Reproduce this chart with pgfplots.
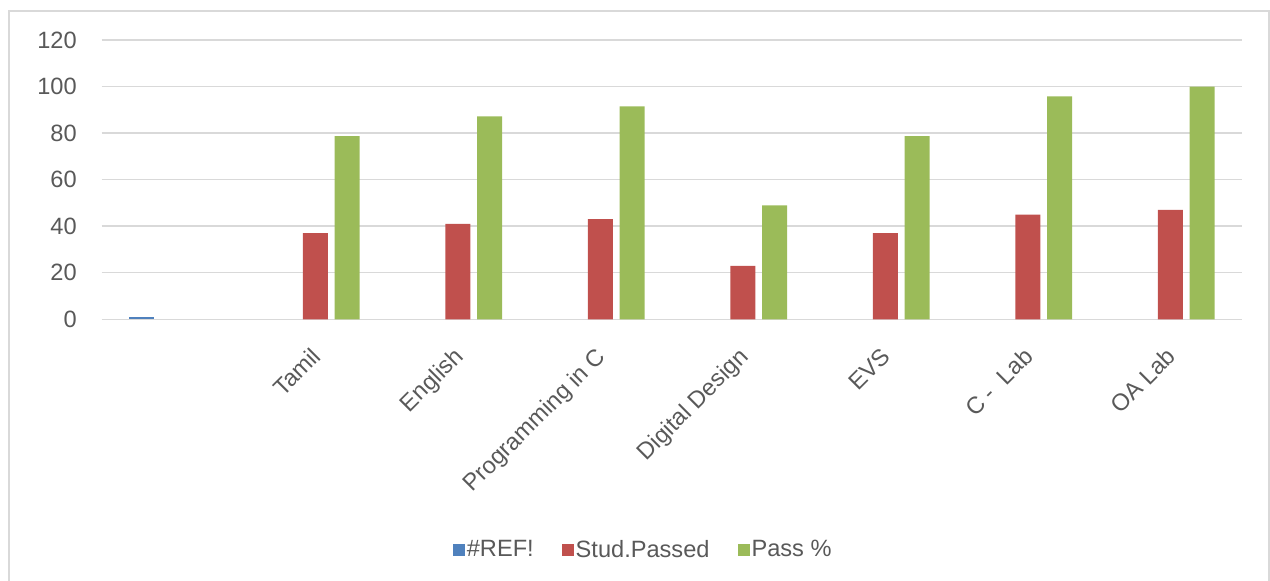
\documentclass[border=0pt]{standalone}
\usepackage{fontspec}
\setmainfont{Liberation Sans}
\usepackage{pgfplots}
\pgfplotsset{compat=1.18}
\definecolor{cblue}{HTML}{4F81BD}
\definecolor{cred}{HTML}{C0504D}
\definecolor{cgreen}{HTML}{9BBB59}
\definecolor{gridc}{HTML}{D9D9D9}
\definecolor{txt}{HTML}{595959}
\begin{document}
\begin{tikzpicture}
\useasboundingbox (0,0) rectangle (635pt,290.5pt);
\draw[gridc, line width=1pt] (4.5pt,0) -- (4.5pt,285pt) -- (634.5pt,285pt) -- (634.5pt,0);
\begin{axis}[
  at={(50.85pt,130.85pt)}, anchor=south west,
  scale only axis, width=570pt, height=139.65pt,
  ybar=3.3pt, bar width=12.5pt,
  xmin=-0.5, xmax=7.5, ymin=0, ymax=120,
  ytick={0,20,...,120},
  xtick={0,...,7},
  xticklabels={{},Tamil,English,Programming in C,Digital Design,EVS,{C -~ Lab},OA Lab},
  major tick length=0pt,
  axis line style={draw=none},
  xmajorgrids=false, ymajorgrids=true,
  major grid style={draw=gridc, line width=0.75pt},
  font=\fontsize{11.8}{14}\selectfont,
  tick label style={text=txt},
  /pgf/number format/assume math mode=true,
  yticklabel style={anchor=east, inner sep=0pt, xshift=-12.3pt},
  xticklabel style={xshift=-2.8pt, yshift=-13.2pt, rotate=45, anchor=north east, inner sep=0pt},
  legend style={at={(0.475,-0.826)}, anchor=center, draw=none, fill=none,
    legend columns=-1, font=\fontsize{11.8}{14}\selectfont, text=txt,
    /tikz/every even column/.append style={column sep=13pt},
    nodes={inner sep=1pt}},
  legend image code/.code={\fill[#1] (0pt,-3pt) rectangle (6pt,3pt);},
  every axis plot/.append style={draw=none},
]
\addplot[fill=cblue] coordinates {(0,1)};
\addplot[fill=cred] coordinates {(1,37) (2,41) (3,43) (4,23) (5,37) (6,45) (7,47)};
\addplot[fill=cgreen] coordinates {(1,78.72) (2,87.23) (3,91.49) (4,48.94) (5,78.72) (6,95.74) (7,100)};
\legend{\#REF!,Stud.Passed,Pass \%}
\end{axis}
\end{tikzpicture}
\end{document}
